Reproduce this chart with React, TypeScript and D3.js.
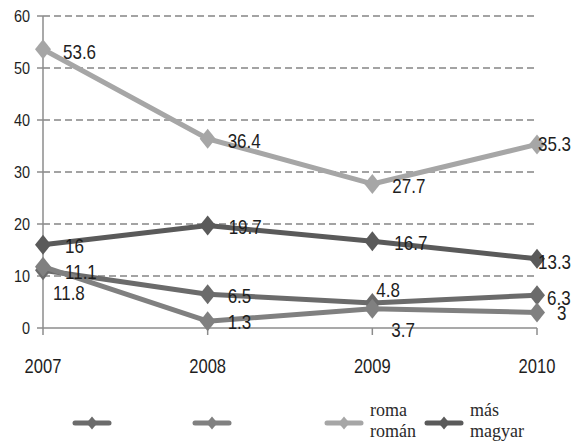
import React, { useEffect, useRef } from 'react';
import * as d3 from 'd3';

// chart data
const years = ['2007', '2008', '2009', '2010'];
const yTicks = [0, 10, 20, 30, 40, 50, 60];
const seriesNames = ['', '', 'roma román', 'más magyar'];
const serA = [11.1, 6.5, 4.8, 6.3];
const serB = [11.8, 1.3, 3.7, 3];
const roma = [53.6, 36.4, 27.7, 35.3];
const magyar = [16, 19.7, 16.7, 13.3];

// label placement (dx, dy from point) - Excel moved a few of them around
const labelOffsets = [
  [[22, 9], [20, 9], [4, -6], [10, 10]],
  [[10, 33], [20, 8], [19, 28], [20, 8]],
  [[20, 10], [20, 9.5], [20, 9], [1, 7]],
  [[22, 8.5], [21, 8.5], [22, 9], [1, 10]],
];
const colors = ['#6b6b6b', '#808080', '#a6a6a6', '#5a5a5a'];
const legendX = [73, 193, 325, 425];

const W = 574;
const H = 443;
const SQ = 0.85; // horizontal squeeze, the original uses a narrow sans

export default function App() {
  const ref = useRef<SVGSVGElement>(null);

  useEffect(() => {
    const svg = d3.select(ref.current);
    svg.selectAll('*').remove();

    const allSeries = [serA, serB, roma, magyar];

    const x = d3.scalePoint().domain(years).range([43, 537]).padding(0);
    const y = d3.scaleLinear().domain([0, 60]).range([328, 16]);

    const txt = (g: any, tx: number, ty: number, s: string, size: number, anchor: string) =>
      g.append('text')
        .attr('transform', `translate(${tx},${ty}) scale(${SQ},1)`)
        .attr('text-anchor', anchor)
        .attr('font-family', 'Liberation Sans, Arial, sans-serif')
        .attr('font-size', size)
        .attr('fill', '#1e1e1e')
        .text(s);

    // gridlines
    svg.append('g')
      .selectAll('line')
      .data(yTicks.filter(t => t > 0))
      .enter()
      .append('line')
      .attr('x1', 43)
      .attr('x2', 535)
      .attr('y1', d => y(d))
      .attr('y2', d => y(d))
      .attr('stroke', '#858585')
      .attr('stroke-width', 1.5)
      .attr('stroke-dasharray', '7,4');

    // y axis
    const axes = svg.append('g').attr('stroke', '#8c8c8c').attr('stroke-width', 1.5);
    axes.append('line').attr('x1', 43).attr('x2', 43).attr('y1', y(60)).attr('y2', y(0));
    yTicks.forEach(t => {
      axes.append('line').attr('x1', 37).attr('x2', 43).attr('y1', y(t)).attr('y2', y(t));
    });
    // x axis
    axes.append('line').attr('x1', 43).attr('x2', 537).attr('y1', y(0)).attr('y2', y(0));
    years.forEach(yr => {
      axes.append('line').attr('x1', x(yr)).attr('x2', x(yr)).attr('y1', y(0)).attr('y2', y(0) + 7);
    });

    yTicks.forEach(t => txt(svg, 30, y(t) + 6, String(t), 17, 'end'));
    years.forEach(yr => txt(svg, x(yr)!, 373, yr, 19.5, 'middle'));

    const line = d3.line<number>()
      .x((d, i) => x(years[i])!)
      .y(d => y(d));

    const diamond = (cx: number, cy: number, w: number, h: number) =>
      `M${cx},${cy - h}L${cx + w},${cy}L${cx},${cy + h}L${cx - w},${cy}Z`;

    allSeries.forEach((s, si) => {
      const g = svg.append('g');
      g.append('path')
        .attr('d', line(s))
        .attr('fill', 'none')
        .attr('stroke', colors[si])
        .attr('stroke-width', 5)
        .attr('stroke-linejoin', 'round');
      g.selectAll('path.mk')
        .data(s)
        .enter()
        .append('path')
        .attr('class', 'mk')
        .attr('d', (d, i) => diamond(x(years[i])!, y(d), 8, 10))
        .attr('fill', colors[si]);
    });

    // data labels on top
    allSeries.forEach((s, si) => {
      s.forEach((v, i) => {
        const [dx, dy] = labelOffsets[si][i];
        txt(svg, x(years[i])! + dx, y(v) + dy, String(v), 20, 'start');
      });
    });

    // legend
    const lg = svg.append('g');
    seriesNames.forEach((name, si) => {
      const lx = legendX[si];
      lg.append('line')
        .attr('x1', lx + 2).attr('x2', lx + 36)
        .attr('y1', 423).attr('y2', 423)
        .attr('stroke', colors[si])
        .attr('stroke-width', 5)
        .attr('stroke-linecap', 'round');
      lg.append('path')
        .attr('d', diamond(lx + 19, 423, 5.5, 6.5))
        .attr('fill', colors[si]);
      if (name) {
        const parts = name.split(' ');
        parts.forEach((p, k) => {
          lg.append('text')
            .attr('x', lx + 45)
            .attr('y', 416 + k * 21)
            .attr('font-family', 'Liberation Serif, serif')
            .attr('font-size', 18)
            .attr('fill', '#2a2a2a')
            .text(p);
        });
      }
    });
  }, []);

  return (
    <div style={{ position: 'fixed', left: 0, top: 0 }}>
      <svg ref={ref} width={W} height={H} style={{ display: 'block', background: '#fff' }} />
    </div>
  );
}
